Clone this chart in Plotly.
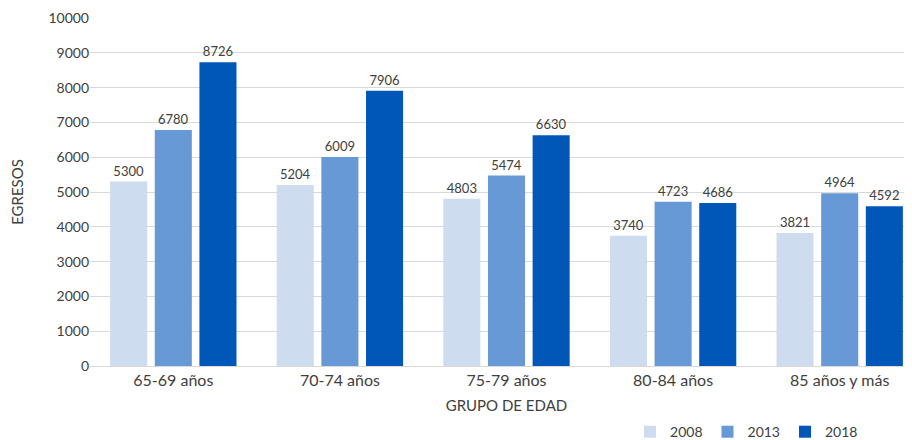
import plotly.graph_objects as go

grupos = ["65-69 años", "70-74 años", "75-79 años", "80-84 años", "85 años y más"]
egresos_2008 = [5300, 5204, 4803, 3740, 3821]
egresos_2013 = [6780, 6009, 5474, 4723, 4964]
egresos_2018 = [8726, 7906, 6630, 4686, 4592]

series = [
    ("2008", egresos_2008, "#cddcef"),
    ("2013", egresos_2013, "#6699d5"),
    ("2018", egresos_2018, "#0057b8"),
]

fig = go.Figure()
for nombre, valores, color in series:
    fig.add_trace(go.Bar(
        name=nombre, x=grupos, y=valores,
        marker=dict(color=color, line=dict(width=0)),
        text=valores, textposition="outside", cliponaxis=False,
        textfont=dict(size=13, color="#404040"),
    ))

# la pagina deja 8px de margen al cuerpo -> compensar en los margenes
# (el grafico original sigue un poco mas alla del borde derecho)
fig.update_layout(
    width=920, height=440,
    margin=dict(l=82, r=5, t=10, b=82, autoexpand=False),
    paper_bgcolor="white", plot_bgcolor="white",
    font=dict(family="Lato, DejaVu Sans, sans-serif", color="#404040"),
    barmode="group", bargap=0.196, bargroupgap=0.17,
    legend=dict(orientation="h", x=0.928, xanchor="right", y=-0.19, yanchor="middle",
                font=dict(size=14), itemwidth=30, traceorder="normal"),
    xaxis=dict(
        title=dict(text="GRUPO DE EDAD", font=dict(size=15), standoff=12),
        tickfont=dict(size=16), showline=True, linecolor="#d9d9d9", ticks="",
        automargin=False,
    ),
    yaxis=dict(
        title=dict(text="EGRESOS", font=dict(size=15), standoff=26),
        range=[0, 10000], dtick=1000, tickformat="d", tickfont=dict(size=14),
        showgrid=True, gridcolor="#d9d9d9", zeroline=False,
        ticks="", ticklen=0, automargin=False,
    ),
)

fig.write_html("out.html")
